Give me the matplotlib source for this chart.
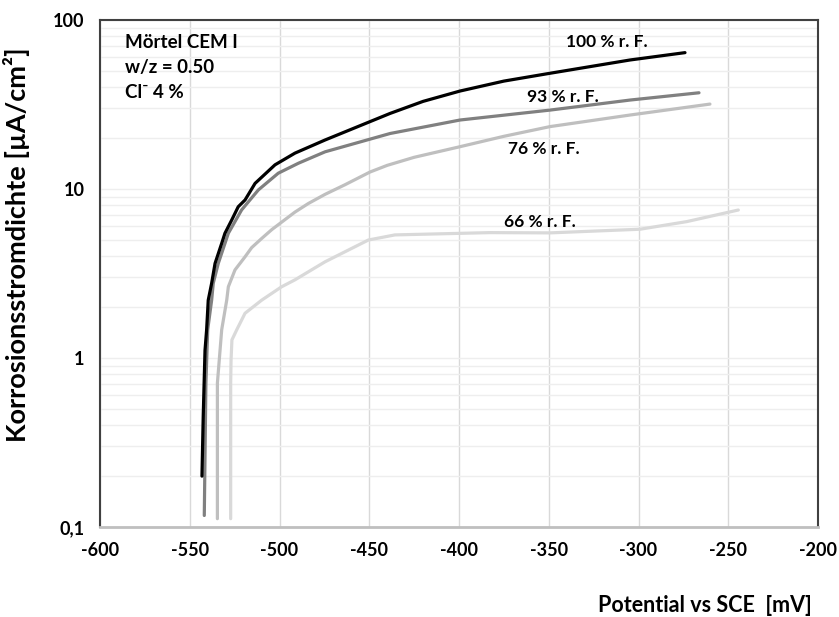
import matplotlib
matplotlib.use("Agg")
import matplotlib.pyplot as plt
from matplotlib.ticker import FixedLocator, LogLocator, NullFormatter

plt.rcParams['font.family'] = ['Lato', 'DejaVu Sans']
plt.rcParams['axes.unicode_minus'] = False

# Data (potential in mV vs SCE, current density in µA/cm²)
x_100 = [-543.2, -542.5, -541.5, -540.6, -539.7, -537.8, -535.9, -532.2, -530.4, -526.6, -523.0,
         -519.2, -513.6, -502.5, -491.4, -474.6, -438.4, -420.0, -399.4, -375.0, -349.3, -304.7, -274.1]
y_100 = [0.200, 0.45, 1.11, 1.47, 2.20, 2.77, 3.63, 4.77, 5.47, 6.56, 7.85,
         8.61, 10.8, 13.9, 16.3, 19.5, 28.0, 33.0, 38.0, 43.5, 48.4, 58.0, 64.1]

x_93 = [-541.9, -541.0, -540.0, -537.8, -536.9, -534.1, -528.5, -521.1, -511.8, -500.7,
        -489.5, -474.6, -438.4, -399.4, -349.3, -304.7, -266.3]
y_93 = [0.117, 0.71, 1.47, 2.20, 2.77, 3.63, 5.47, 7.52, 9.87, 12.4,
        14.2, 16.6, 21.3, 25.6, 29.3, 33.6, 37.1]

x_76 = [-534.6, -534.6, -532.2, -529.4, -528.5, -524.8, -519.2, -515.5, -509.9, -504.3,
        -491.4, -484.0, -474.6, -463.5, -449.6, -440.0, -425.0, -399.4, -375.0, -349.3, -325.0, -304.7, -260.2]
y_76 = [0.112, 0.71, 1.47, 2.20, 2.64, 3.32, 3.97, 4.50, 5.10, 5.75,
        7.30, 8.2, 9.3, 10.6, 12.6, 13.8, 15.4, 17.8, 20.5, 23.4, 25.5, 27.4, 31.8]

x_66 = [-527.2, -527.2, -527.0, -526.5, -523.8, -519.2, -509.9, -498.8, -491.4, -474.6,
        -450.5, -435.7, -382.7, -349.3, -299.2, -273.2, -244.4]
y_66 = [0.112, 0.71, 0.97, 1.28, 1.47, 1.84, 2.20, 2.64, 2.90, 3.71,
        4.99, 5.35, 5.52, 5.50, 5.78, 6.41, 7.51]

labels = ["100 % r. F.", "93 % r. F.", "76 % r. F.", "66 % r. F."]
label_x = [-317.5, -342.0, -352.9, -355.0]
label_y = [74.2, 35.0, 17.2, 6.42]

x_ticks = [-600, -550, -500, -450, -400, -350, -300, -250, -200]
y_ticks = [0.1, 1, 10, 100]
y_ticklabels = ["0,1", "1", "10", "100"]

fig = plt.figure(figsize=(8.39, 6.17), dpi=100)
ax = fig.add_axes([100/839, 90/617, 718/839, 507/617])

ax.set_yscale('log')
ax.set_xlim(-600, -200)
ax.set_ylim(0.1, 100)

ax.yaxis.set_major_locator(FixedLocator(y_ticks))
ax.yaxis.set_minor_locator(LogLocator(base=10, subs=range(2, 10)))
ax.yaxis.set_minor_formatter(NullFormatter())
ax.set_yticklabels(y_ticklabels)
ax.set_xticks(x_ticks)
ax.grid(True, which='major', axis='x', color='#d9d9d9', lw=1.0)
ax.grid(True, which='minor', axis='y', color='#eeeeee', lw=1.0)
ax.grid(True, which='major', axis='y', color='#eeeeee', lw=1.0)
ax.set_axisbelow(True)

ax.tick_params(which='both', length=0)
for lab in ax.get_xticklabels() + ax.get_yticklabels():
    lab.set_fontweight('bold')
    lab.set_fontsize(13)
ax.tick_params(axis='x', pad=11)
ax.tick_params(axis='y', pad=11)

for s in ['left', 'top', 'right']:
    ax.spines[s].set_color('#404040')
    ax.spines[s].set_linewidth(1.5)
ax.spines['bottom'].set_color('#bfbfbf')
ax.spines['bottom'].set_linewidth(2.0)

ax.plot(x_66, y_66, color='#d9d9d9', lw=2.3, solid_capstyle='round', solid_joinstyle='round')
ax.plot(x_76, y_76, color='#bfbfbf', lw=2.3, solid_capstyle='round', solid_joinstyle='round')
ax.plot(x_93, y_93, color='#808080', lw=2.3, solid_capstyle='round', solid_joinstyle='round')
ax.plot(x_100, y_100, color='#000000', lw=2.3, solid_capstyle='round', solid_joinstyle='round')

for t, lx, ly in zip(labels, label_x, label_y):
    ax.text(lx, ly, t, fontsize=12.5, fontweight='bold', ha='center', va='center')

for txt, py in [("Mörtel CEM I", 42), ("w/z = 0.50", 67), ("Cl⁻ 4 %", 93)]:
    fig.text(125/839, 1 - py/617, txt, fontsize=13.5, fontweight='bold', ha='left', va='center')

fig.text(17/839, 1 - 245/617, "Korrosionsstromdichte [µA/cm²]", fontsize=19.5, fontweight='bold',
         rotation=90, ha='center', va='center')
fig.text(812/839, 1 - 605/617, "Potential vs SCE  [mV]", fontsize=15.5, fontweight='bold',
         ha='right', va='center')

fig.savefig("out.png", dpi=100)
